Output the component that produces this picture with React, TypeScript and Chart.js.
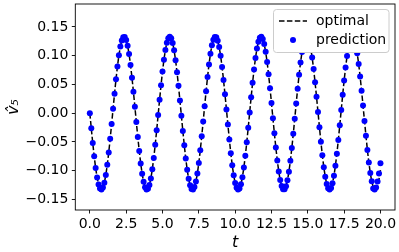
import React, { useEffect, useRef } from "react";
import { Chart, registerables } from "chart.js";

Chart.register(...registerables);

// sample times t
const T = [
  0, 0.1, 0.2, 0.3, 0.4, 0.5, 0.6, 0.7, 0.8, 0.9,
  1, 1.1, 1.2, 1.3, 1.4, 1.5, 1.6, 1.7, 1.8, 1.9,
  2, 2.1, 2.2, 2.3, 2.4, 2.5, 2.6, 2.7, 2.8, 2.9,
  3, 3.1, 3.2, 3.3, 3.4, 3.5, 3.6, 3.7, 3.8, 3.9,
  4, 4.1, 4.2, 4.3, 4.4, 4.5, 4.6, 4.7, 4.8, 4.9,
  5, 5.1, 5.2, 5.3, 5.4, 5.5, 5.6, 5.7, 5.8, 5.9,
  6, 6.1, 6.2, 6.3, 6.4, 6.5, 6.6, 6.7, 6.8, 6.9,
  7, 7.1, 7.2, 7.3, 7.4, 7.5, 7.6, 7.7, 7.8, 7.9,
  8, 8.1, 8.2, 8.3, 8.4, 8.5, 8.6, 8.7, 8.8, 8.9,
  9, 9.1, 9.2, 9.3, 9.4, 9.5, 9.6, 9.7, 9.8, 9.9,
  10, 10.1, 10.2, 10.3, 10.4, 10.5, 10.6, 10.7, 10.8, 10.9,
  11, 11.1, 11.2, 11.3, 11.4, 11.5, 11.6, 11.7, 11.8, 11.9,
  12, 12.1, 12.2, 12.3, 12.4, 12.5, 12.6, 12.7, 12.8, 12.9,
  13, 13.1, 13.2, 13.3, 13.4, 13.5, 13.6, 13.7, 13.8, 13.9,
  14, 14.1, 14.2, 14.3, 14.4, 14.5, 14.6, 14.7, 14.8, 14.9,
  15, 15.1, 15.2, 15.3, 15.4, 15.5, 15.6, 15.7, 15.8, 15.9,
  16, 16.1, 16.2, 16.3, 16.4, 16.5, 16.6, 16.7, 16.8, 16.9,
  17, 17.1, 17.2, 17.3, 17.4, 17.5, 17.6, 17.7, 17.8, 17.9,
  18, 18.1, 18.2, 18.3, 18.4, 18.5, 18.6, 18.7, 18.8, 18.9,
  19, 19.1, 19.2, 19.3, 19.4, 19.5, 19.6, 19.7, 19.8, 19.9,
  20,
];

// optimal (dashed black) values
const OPTIMAL = [
  0, -0.0264, -0.0518, -0.0751, -0.0954, -0.1119, -0.124, -0.1311, -0.1329, -0.1295,
  -0.1209, -0.1075, -0.0898, -0.0686, -0.0446, -0.0188, 0.0078, 0.034, 0.0589, 0.0814,
  0.1007, 0.1159, 0.1266, 0.1322, 0.1325, 0.1275, 0.1175, 0.1028, 0.084, 0.0618,
  0.0372, 0.0111,
  -0.0155, -0.0414, -0.0657, -0.0874, -0.1056, -0.1195, -0.1287, -0.1328, -0.1316, -0.1251,
  -0.1137, -0.0977, -0.0778, -0.0548, -0.0297, -0.0033, 0.0232, 0.0487, 0.0724, 0.0931,
  0.1101, 0.1227, 0.1305, 0.133, 0.1302, 0.1223, 0.1094, 0.0922, 0.0714, 0.0477,
  0.022,
  -0.0045, -0.0308, -0.0559, -0.0787, -0.0985, -0.1143, -0.1255, -0.1318, -0.1327, -0.1284,
  -0.119, -0.1048, -0.0865, -0.0647, -0.0403, -0.0143, 0.0122, 0.0383, 0.0628, 0.0849,
  0.1035, 0.118, 0.1279, 0.1326, 0.132, 0.1262, 0.1153, 0.0999, 0.0805, 0.0578,
  0.0329, 0.0066,
  -0.0199, -0.0457, -0.0696, -0.0907, -0.1082, -0.1214, -0.1298, -0.133, -0.1309, -0.1235,
  -0.1113, -0.0946, -0.0741, -0.0507, -0.0253, 0.0012, 0.0276, 0.0529, 0.0761, 0.0962,
  0.1125, 0.1244, 0.1313, 0.1329, 0.1293, 0.1205, 0.1068, 0.089, 0.0676, 0.0435,
  0.0176,
  -0.0089, -0.0351, -0.0599, -0.0823, -0.1014, -0.1165, -0.1269, -0.1323, -0.1324, -0.1272,
  -0.1169, -0.102, -0.083, -0.0607, -0.036, -0.0099, 0.0167, 0.0426, 0.0667, 0.0883,
  0.1063, 0.12, 0.129, 0.1329, 0.1314, 0.1247, 0.113, 0.0969, 0.0768, 0.0537,
  0.0285, 0.0021,
  -0.0243, -0.0498, -0.0733, -0.0939, -0.1108, -0.1232, -0.1307, -0.133, -0.13, -0.1218,
  -0.1088, -0.0914, -0.0704, -0.0465, -0.0209, 0.0057, 0.0319, 0.057, 0.0797, 0.0993,
  0.1149, 0.1259, 0.1319, 0.1327, 0.1281, 0.1185, 0.1041, 0.0856, 0.0637, 0.0392,
  0.0132,
  -0.0134, -0.0394, -0.0639, -0.0858, -0.1043, -0.1186, -0.1282, -0.1327, -0.1319, -0.1258,
  -0.1147, -0.0991,
];

// prediction (blue dots): same as optimal except the last few samples
const PREDICTION_TAIL = [-0.1311, -0.1329, -0.1295, -0.119, -0.105, -0.087];
const PREDICTION = [...OPTIMAL.slice(0, 195), ...PREDICTION_TAIL];

const X_TICKS = [0, 2.5, 5, 7.5, 10, 12.5, 15, 17.5, 20];
const Y_TICKS = [-0.15, -0.1, -0.05, 0, 0.05, 0.1, 0.15];

const FONT = "DejaVu Sans";

const framePlugin = {
  id: "mplFrame",
  afterDatasetsDraw(chart: any) {
    const { ctx, chartArea } = chart;
    ctx.save();
    ctx.strokeStyle = "#000";
    ctx.lineWidth = 0.9;
    ctx.strokeRect(chartArea.left, chartArea.top, chartArea.right - chartArea.left, chartArea.bottom - chartArea.top);
    ctx.restore();
  },
};

const legendPlugin = {
  id: "mplLegend",
  afterDraw(chart: any) {
    const ctx = chart.ctx;
    const ds = chart.data.datasets;
    const x0 = 273.5, y0 = 9.5, w = 115.5, h = 43, r = 3;
    ctx.save();
    ctx.beginPath();
    ctx.moveTo(x0 + r, y0);
    ctx.lineTo(x0 + w - r, y0);
    ctx.quadraticCurveTo(x0 + w, y0, x0 + w, y0 + r);
    ctx.lineTo(x0 + w, y0 + h - r);
    ctx.quadraticCurveTo(x0 + w, y0 + h, x0 + w - r, y0 + h);
    ctx.lineTo(x0 + r, y0 + h);
    ctx.quadraticCurveTo(x0, y0 + h, x0, y0 + h - r);
    ctx.lineTo(x0, y0 + r);
    ctx.quadraticCurveTo(x0, y0, x0 + r, y0);
    ctx.closePath();
    ctx.fillStyle = "#ffffff";
    ctx.fill();
    ctx.strokeStyle = "#cccccc";
    ctx.lineWidth = 1;
    ctx.stroke();

    const optimal = ds[1];
    const pred = ds[0];
    // row 1: dashed line
    ctx.beginPath();
    ctx.setLineDash(optimal.borderDash);
    ctx.strokeStyle = optimal.borderColor;
    ctx.lineWidth = optimal.borderWidth;
    ctx.moveTo(279, 21);
    ctx.lineTo(307, 21);
    ctx.stroke();
    ctx.setLineDash([]);
    // row 2: dot
    ctx.beginPath();
    ctx.fillStyle = pred.pointBackgroundColor;
    ctx.arc(293, 40, pred.pointRadius, 0, Math.PI * 2);
    ctx.fill();

    ctx.fillStyle = "#000";
    ctx.font = `14px "${FONT}"`;
    ctx.textBaseline = "middle";
    ctx.textAlign = "left";
    ctx.fillText(optimal.label, 316, 21);
    ctx.fillText(pred.label, 316, 40);
    ctx.restore();
  },
};

const fmtY = (v: number) => {
  const s = (Math.abs(v) < 1e-9 ? 0 : v).toFixed(2);
  return s.replace("-", "\u2212");
};

export default function App() {
  const ref = useRef<HTMLCanvasElement | null>(null);

  useEffect(() => {
    if (!ref.current) return;
    const chart = new Chart(ref.current, {
      type: "line",
      data: {
        datasets: [
          {
            label: "prediction",
            data: T.map((t, i) => ({ x: t, y: PREDICTION[i] })),
            showLine: false,
            pointRadius: 3,
            pointBackgroundColor: "#0000ff",
            pointBorderColor: "#0000ff",
            pointBorderWidth: 0,
            order: 0,
          } as any,
          {
            label: "optimal",
            data: T.map((t, i) => ({ x: t, y: OPTIMAL[i] })),
            borderColor: "#000000",
            borderWidth: 1.5,
            borderDash: [5.5, 2.4],
            pointRadius: 0,
            fill: false,
            tension: 0,
            order: 1,
          } as any,
        ],
      },
      options: {
        animation: false,
        responsive: false,
        maintainAspectRatio: false,
        layout: { padding: { left: 0, top: 3, right: 3.7, bottom: 0 } },
        plugins: { legend: { display: false }, tooltip: { enabled: false } },
        scales: {
          x: {
            type: "linear",
            min: -1,
            max: 21,
            afterBuildTicks: (s: any) => {
              s.ticks = X_TICKS.map((v) => ({ value: v }));
            },
            afterFit: (s: any) => {
              s.height = 42;
              s.paddingLeft = 0;
              s.paddingRight = 0;
            },
            ticks: {
              autoSkip: false,
              maxRotation: 0,
              padding: 2,
              color: "#000",
              font: { family: FONT, size: 14 },
              callback: (v: any) => Number(v).toFixed(1),
            },
            grid: {
              display: true,
              drawOnChartArea: false,
              drawTicks: true,
              tickLength: 3.5,
              tickWidth: 0.9,
              tickColor: "#000",
            },
            border: { display: false },
            title: {
              display: true,
              text: "t",
              color: "#000",
              font: { family: FONT, size: 16, style: "italic" },
              padding: { top: 0, bottom: 0 },
            },
          },
          y: {
            type: "linear",
            min: -0.1685,
            max: 0.19,
            afterBuildTicks: (s: any) => {
              s.ticks = Y_TICKS.map((v) => ({ value: v }));
            },
            afterFit: (s: any) => {
              s.width = 75.3;
              s.paddingTop = 0;
              s.paddingBottom = 0;
            },
            ticks: {
              autoSkip: false,
              padding: 3.5,
              color: "#000",
              font: { family: FONT, size: 14 },
              callback: (v: any) => fmtY(Number(v)),
            },
            grid: {
              display: true,
              drawOnChartArea: false,
              drawTicks: true,
              tickLength: 3.5,
              tickWidth: 0.9,
              tickColor: "#000",
            },
            border: { display: false },
            title: {
              display: true,
              text: "v\u0302\u2085",
              color: "#000",
              font: { family: FONT, size: 16, style: "italic" },
              padding: { top: 4, bottom: 0 },
            },
          },
        },
      },
      plugins: [framePlugin, legendPlugin],
    });
    return () => chart.destroy();
  }, []);

  return (
    <div style={{ position: "fixed", left: 0, top: 0, width: 399, height: 252, background: "#fff" }}>
      <canvas ref={ref} width={399} height={252} style={{ display: "block" }} />
    </div>
  );
}
